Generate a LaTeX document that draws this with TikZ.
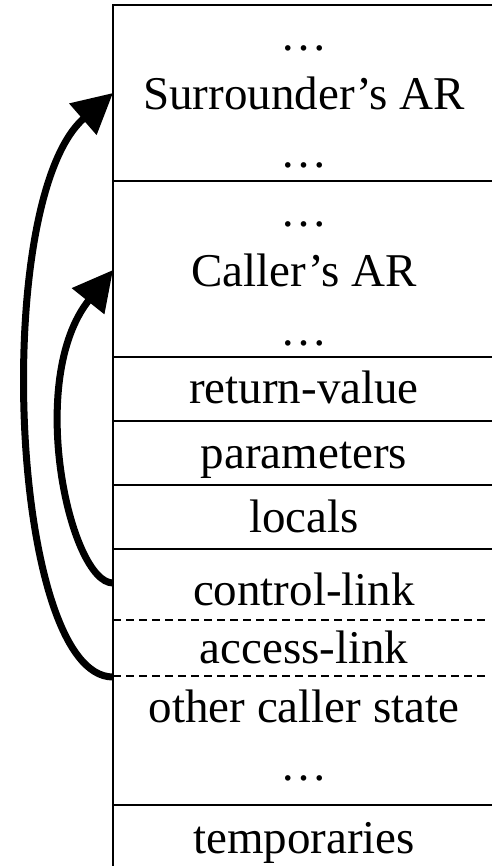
\documentclass[tikz,border=0pt]{standalone}
\usepackage{fontspec}
\setmainfont{Liberation Serif}
\usetikzlibrary{arrows.meta}
\begin{document}
\begin{tikzpicture}[x=1pt,y=-1pt,
  cellline/.style={line width=1.5pt},
  dashline/.style={line width=1.5pt,dash pattern=on 8pt off 5pt},
  lbl/.style={anchor=base,inner sep=0pt,font=\fontsize{47}{56}\selectfont},
  link/.style={line width=7pt,-{Triangle[length=40pt,width=40pt]}}]
\useasboundingbox (0,0) rectangle (491,866);
% frame lines
\draw[cellline] (495,5) -- (113,5) -- (113,870);
\draw[cellline] (113,181) -- (495,181);
\draw[cellline] (113,357) -- (495,357);
\draw[cellline] (113,421) -- (495,421);
\draw[cellline] (113,485) -- (495,485);
\draw[cellline] (113,549) -- (495,549);
\draw[dashline] (113,620) -- (486,620);
\draw[dashline] (113,676) -- (486,676);
\draw[cellline] (113,805) -- (495,805);
% texts
\node[lbl] (sd1) at (304,51) {…};
\node[lbl] (sur) at (304,110) {Surrounder’s AR};
\node[lbl] (sd2) at (304,168) {…};
\node[lbl] (cd1) at (304,227) {…};
\node[lbl] (cal) at (304,287) {Caller’s AR};
\node[lbl] (cd2) at (304,345) {…};
\node[lbl] (ret) at (304,403) {return-value};
\node[lbl] (par) at (304,468) {parameters};
\node[lbl] (loc) at (304,532) {locals};
\node[lbl] (ctl) at (304,605) {control-link};
\node[lbl] (acc) at (304,663) {access-link};
\node[lbl] (oth) at (304,722) {other caller state};
\node[lbl] (od) at (304,780) {…};
\node[lbl] (tmp) at (304,853) {temporaries};
% link anchors
\coordinate (accfrom) at (113,677);
\coordinate (surto) at (113,93);
\coordinate (ctlfrom) at (113,583);
\coordinate (calto) at (113,270);
\draw[link] (accfrom) .. controls (10,677) and (-10,200) .. (surto);
\draw[link] (ctlfrom) .. controls (70,583) and (25,380) .. (calto);
\end{tikzpicture}
\end{document}
